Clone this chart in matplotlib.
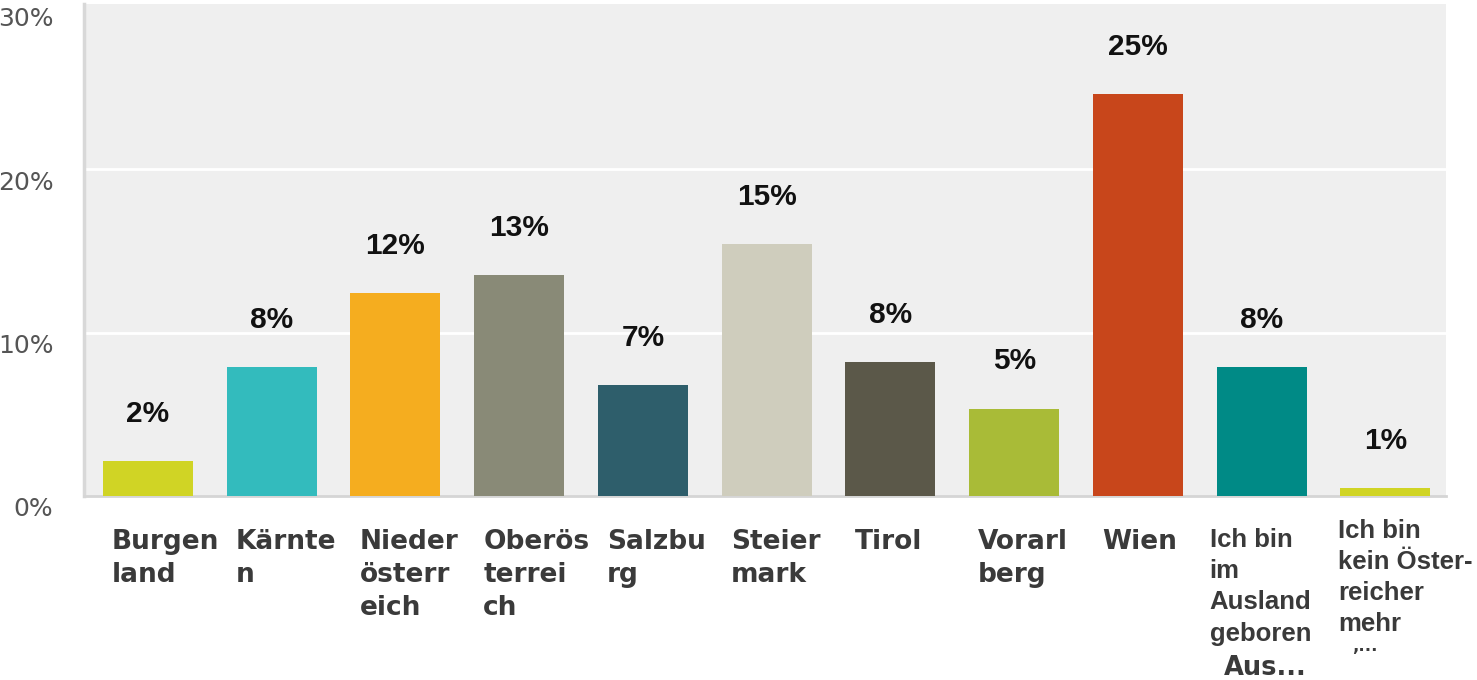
import matplotlib.pyplot as plt
import matplotlib.transforms as mtransforms

# data
regions = ["Burgen\nland", "Kärnte\nn", "Nieder\nösterr\neich", "Oberös\nterrei\nch",
           "Salzbu\nrg", "Steier\nmark", "Tirol", "Vorarl\nberg", "Wien",
           "Ich bin\nim\nAusland\ngeboren", "Ich bin\nkein Öster-\nreicher\nmehr"]
shares = [2.15, 7.9, 12.4, 13.5, 6.8, 15.4, 8.2, 5.35, 24.6, 7.9, 0.5]
share_labels = ["2%", "8%", "12%", "13%", "7%", "15%", "8%", "5%", "25%", "8%", "1%"]
bar_colors = ["#d0d425", "#33bbbd", "#f5ad1f", "#898a77", "#2e5e6b", "#cfcdbd",
              "#5b5849", "#a9bb37", "#c8461b", "#008a86", "#d0d425"]
yticks = [0, 10, 20, 30]
ytick_labels = ["0%", "10%", "20%", "30%"]

W, H = 1477, 680
fig = plt.figure(figsize=(W / 100, H / 100), dpi=100)
ax = fig.add_axes([84 / W, (H - 496) / H, (1446 - 84) / W, (496 - 4) / H])
ax.set_facecolor("#efefef")

x = list(range(len(shares)))
ax.bar(x, shares, width=0.727, color=bar_colors, zorder=3)
ax.set_xlim(-0.517, 10.49)
ax.set_ylim(0, 30.12)

ax.set_yticks(yticks)
ax.set_yticklabels(ytick_labels, fontsize=18, color="#555555", family="DejaVu Sans")
ax.tick_params(axis="y", length=0, pad=22)
ax.tick_params(axis="x", length=0, labelbottom=False)
down = mtransforms.ScaledTranslation(0, -11 / 100, fig.dpi_scale_trans)
for lab in ax.get_yticklabels():
    lab.set_transform(lab.get_transform() + down)

for g in [10, 20]:
    ax.axhline(g, color="white", lw=2, zorder=1)

for s in ["top", "right"]:
    ax.spines[s].set_visible(False)
ax.spines["left"].set_color("#d8d8d8")
ax.spines["left"].set_linewidth(2.5)
ax.spines["bottom"].set_color("#d5d5d5")
ax.spines["bottom"].set_linewidth(2)

# value labels above bars
for xi, v, t in zip(x, shares, share_labels):
    ax.annotate(t, (xi, v), xytext=(0, 34), textcoords="offset points",
                ha="center", va="center", fontsize=21.5, fontweight="bold",
                family="Liberation Sans", color="#111111")

# category labels under the bars
blend = mtransforms.blended_transform_factory(ax.transData, fig.transFigure)
for xi, name in zip(x, regions):
    if xi < 9:
        dx, top, fam, lsp = -36, 529, "DejaVu Sans", 1.36
    elif xi == 9:
        dx, top, fam, lsp = -52, 528, "Liberation Sans", 1.38
    else:
        dx, top, fam, lsp = -47, 519, "Liberation Sans", 1.36
    tr = blend + mtransforms.ScaledTranslation(dx / 100, 0, fig.dpi_scale_trans)
    ax.text(xi, 1 - top / H, name, transform=tr, ha="left", va="top",
            fontsize=19 if xi < 9 else 18.5, fontweight="bold", family=fam,
            color="#3a3a3a", linespacing=lsp)

ax.text(9, 1 - 668 / H, "Aus...", transform=blend + mtransforms.ScaledTranslation(4 / 100, 0, fig.dpi_scale_trans),
        ha="center", va="center", fontsize=18.5, fontweight="bold",
        family="DejaVu Sans", color="#3a3a3a")
ax.text(10, 1 - 646 / H, ",...", transform=blend + mtransforms.ScaledTranslation(-21 / 100, 0, fig.dpi_scale_trans),
        ha="center", va="center", fontsize=12, fontweight="bold",
        family="DejaVu Sans", color="#3a3a3a")

fig.savefig("out.png", dpi=100, facecolor="white")
